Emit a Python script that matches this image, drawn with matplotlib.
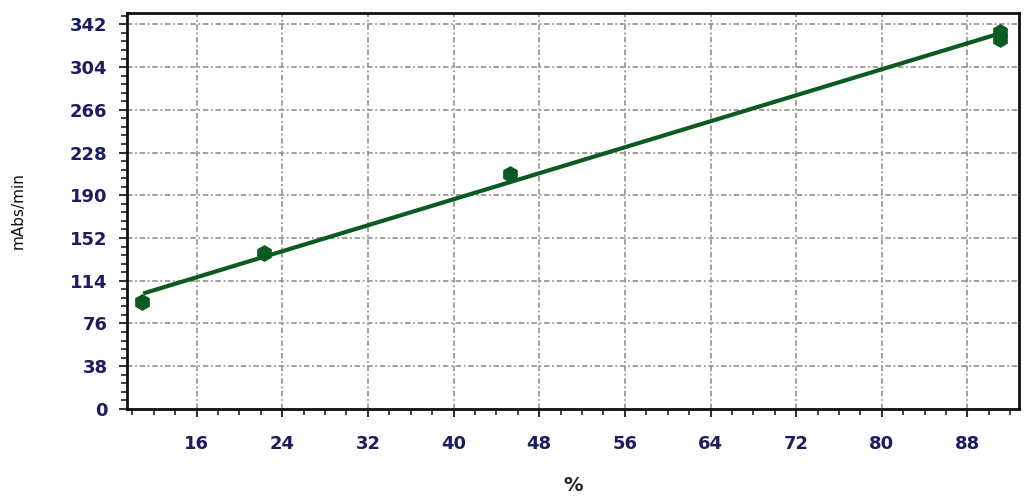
import numpy as np
import matplotlib
matplotlib.use("Agg")
import matplotlib.pyplot as plt
from matplotlib.ticker import MultipleLocator, FixedLocator

# Data
x_pts = [10.9, 22.3, 45.3, 91.0, 91.0]
y_pts = [95, 139, 209, 335, 329]
x_ticks = [16, 24, 32, 40, 48, 56, 64, 72, 80, 88]
y_ticks = [0, 38, 76, 114, 152, 190, 228, 266, 304, 342]
x_label = "%"
y_label = "mAbs/min"

green = "#0b5a22"
navy = "#1c1c5e"

fig = plt.figure(figsize=(10.24, 5.03), dpi=100)
ax = fig.add_axes([0.124, 0.187, 0.871, 0.787])

slope, icpt = np.polyfit(x_pts, y_pts, 1)
xl = np.array([min(x_pts) + 0.3, max(x_pts)])
ax.plot(xl, slope * xl + icpt, color=green, lw=3, zorder=3)
ax.plot(x_pts, y_pts, linestyle="none", marker="h", markersize=11,
        color=green, zorder=4)

ax.set_xlim(9.5, 92.8)
ax.set_ylim(0, 352)
ax.xaxis.set_major_locator(FixedLocator(x_ticks))
ax.yaxis.set_major_locator(FixedLocator(y_ticks))
ax.xaxis.set_minor_locator(MultipleLocator(2))
ax.yaxis.set_minor_locator(MultipleLocator(7.6))

ax.grid(True, which="major", color="#9a9a90", linestyle=(0, (3, 1.5, 1, 1.5)), lw=1.3)
ax.tick_params(which="major", direction="out", length=6, width=1.5,
               color="#333333", labelsize=13, labelcolor=navy, pad=8)
ax.tick_params(axis="x", which="major", pad=13)
ax.tick_params(which="minor", direction="out", length=4, width=1.3, color="#333333")
for lab in ax.get_xticklabels() + ax.get_yticklabels():
    lab.set_fontweight("bold")
for s in ax.spines.values():
    s.set_linewidth(2)
    s.set_color("#111111")

ax.set_xlabel(x_label, fontsize=14, fontweight="bold", color="#222222", labelpad=16)
ax.set_ylabel(y_label, fontsize=11, color="#111111", labelpad=32)

fig.savefig("out.png", dpi=100)
